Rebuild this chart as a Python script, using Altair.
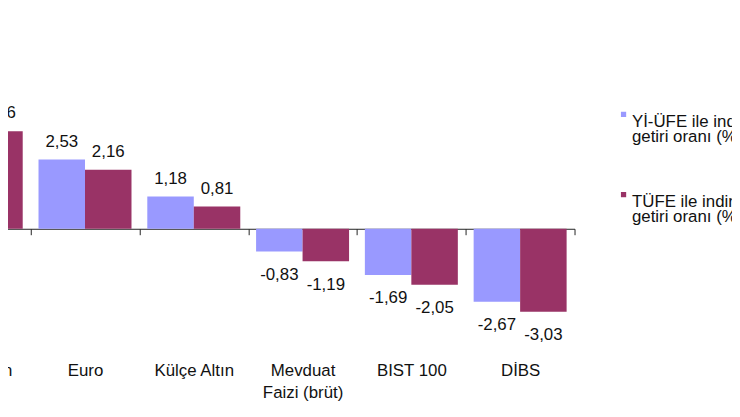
import altair as alt
import pandas as pd

categories = ["Amerikan\nDoları", "Euro", "Külçe Altın", "Mevduat\nFaizi (brüt)", "BIST 100", "DİBS"]
series = ["Yİ-ÜFE ile indirgenmiş reel\ngetiri oranı (%)", "TÜFE ile indirgenmiş reel\ngetiri oranı (%)"]
yi_ufe = [3.93, 2.53, 1.18, -0.83, -1.69, -2.67]
tufe = [3.56, 2.16, 0.81, -1.19, -2.05, -3.03]
colors = ["#9999FF", "#993366"]

rows = []
for c, a, b in zip(categories, yi_ufe, tufe):
    rows.append({"cat": c, "series": series[0], "value": a})
    rows.append({"cat": c, "series": series[1], "value": b})
df = pd.DataFrame(rows)
df["label"] = df["value"].map(lambda v: f"{v:.2f}".replace(".", ","))

FONT = "Liberation Sans"
FS = 17
INK = "#111111"
H = 395
YMIN, YMAX = -6.3, 8.0
zero_y = H * YMAX / (YMAX - YMIN)

x_enc = alt.X(
    "cat:N", sort=categories, title=None,
    scale=alt.Scale(range=[-87, 572], paddingInner=0, paddingOuter=0),
    axis=alt.Axis(
        orient="bottom", offset=-round(H - zero_y), domainColor="#222222",
        tickColor="#222222", tickBand="extent", tickSize=6, labelAngle=0,
        labelPadding=129.5, labelExpr="split(datum.label, '\\n')",
        labelFont=FONT, labelFontSize=FS, labelColor=INK, labelLineHeight=21.5,
        labelLimit=400, labelOverlap=False, grid=False,
    ),
)
xo_enc = alt.XOffset("series:N", sort=series,
                     scale=alt.Scale(paddingInner=0, paddingOuter=0.17))
y_enc = alt.Y("value:Q", scale=alt.Scale(domain=[YMIN, YMAX], nice=False, zero=False), axis=None)

base = alt.Chart(df).encode(x=x_enc, xOffset=xo_enc, y=y_enc)

bars = base.mark_bar().encode(
    color=alt.Color(
        "series:N", sort=series,
        scale=alt.Scale(domain=series, range=colors),
        legend=alt.Legend(
            orient="none", legendX=613, legendY=97, title=None,
            symbolType="square", symbolSize=28, symbolStrokeWidth=0,
            labelFont=FONT, labelFontSize=FS, labelColor=INK,
            labelBaseline="top", labelExpr="split(datum.label, '\\n')",
            labelOffset=0, labelLimit=600, rowPadding=41, padding=0,
        ),
    )
)

pos = base.transform_filter("datum.value >= 0").mark_text(
    baseline="alphabetic", dy=-13, font=FONT, fontSize=FS, color=INK
).encode(text="label:N")
neg = base.transform_filter("datum.value < 0").mark_text(
    baseline="top", dy=15.5, font=FONT, fontSize=FS, color=INK
).encode(text="label:N")

chart = (
    alt.layer(bars, pos, neg)
    .properties(width=731, height=H, padding=0, autosize=alt.AutoSizeParams(type="none"))
    .configure(style={"guide-label": {"lineHeight": 15}})
    .configure_view(stroke=None)
)

chart.save("out.html", embed_options={"renderer": "svg", "actions": False})
